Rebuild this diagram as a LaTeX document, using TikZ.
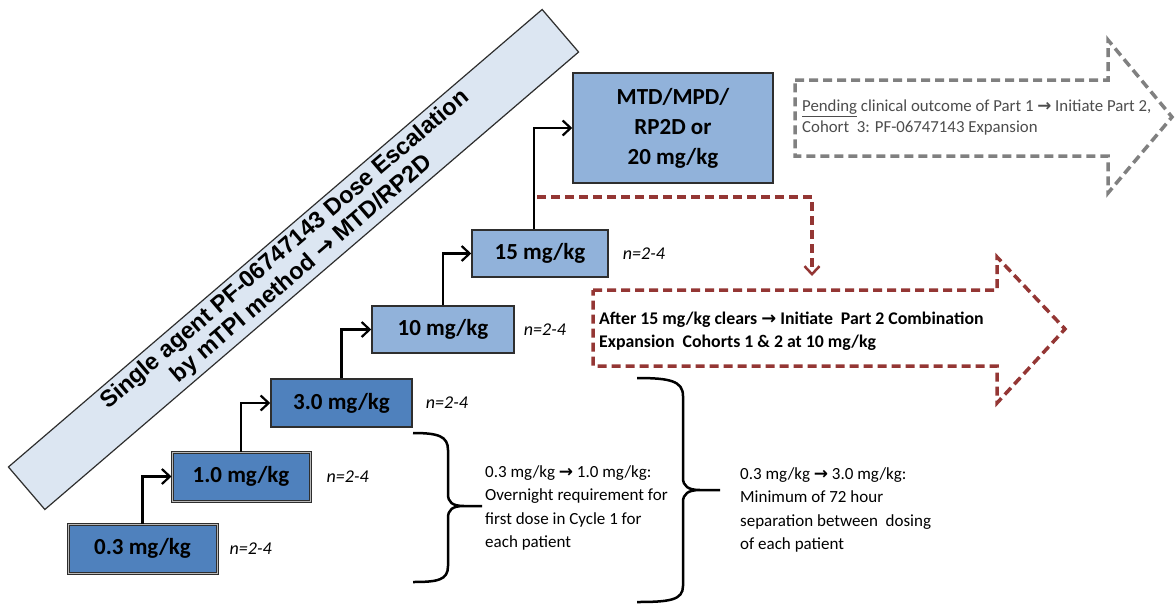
\documentclass[tikz,border=0pt]{standalone}
\usepackage{fontspec}
\setmainfont{Carlito}
\newfontfamily\bannerfont{Liberation Sans}
\newfontfamily\symfont{DejaVu Sans}
\usetikzlibrary{arrows.meta,positioning}

\definecolor{doseblue}{HTML}{4F81BD}
\definecolor{paleblue}{HTML}{91B2DA}
\definecolor{bannerfill}{HTML}{DCE6F2}
\definecolor{boxline}{HTML}{2E2E2E}
\definecolor{partred}{HTML}{943634}
\definecolor{partgray}{HTML}{808080}
\definecolor{notegray}{HTML}{4D4D4D}

\newcommand{\toarrow}{{\symfont\bfseries →}}

\tikzset{
    dosebox/.style = {draw=boxline, line width=1.5pt, fill=doseblue, inner sep=0pt,
        minimum height=48pt, font=\fontsize{23}{30}\selectfont\bfseries},
    dblbox/.style = {dosebox, line width=1pt, double=gray!55, double distance=1pt},
    nlabel/.style = {font=\fontsize{18}{22}\selectfont\itshape, inner sep=0pt},
    note/.style = {font=\fontsize{17}{23.3}\selectfont, align=left, inner sep=0pt},
    flow/.style = {line width=2.2pt, -{Straight Barb[length=8pt,width=15pt,line width=2.2pt]}},
    bracket/.style = {line width=2.5pt},
    redpart/.style = {draw=partred, line width=3.5pt, dash pattern=on 9pt off 5pt},
    graypart/.style = {draw=partgray, line width=3.5pt, dash pattern=on 9pt off 5pt}
}

\begin{document}
\begin{tikzpicture}[x=1pt, y=-1pt]
    \path[fill=white, use as bounding box] (0,0) rectangle (1175,603);

    % banner
    \node[draw=boxline, line width=1.2pt, fill=bannerfill, rotate=40.6,
          minimum width=703pt, minimum height=56pt, inner sep=0pt, align=center,
          font=\fontsize{23.5}{25.5}\selectfont\bannerfont\bfseries] (banner) at (293.5,259.5)
        {Single agent PF-06747143 Dose Escalation\\by mTPI method \toarrow{} MTD/RP2D};

    % dose levels
    \node[dblbox, minimum width=149pt, minimum height=49pt] (b03) at (142.5,548.5) {0.3 mg/kg};
    \node[dblbox, minimum width=138pt, minimum height=49pt] (b10) at (241,476.5) {1.0 mg/kg};
    \node[dosebox, minimum width=141pt] (b30) at (341.5,403) {3.0 mg/kg};
    \node[dosebox, fill=paleblue, minimum width=142pt, minimum height=47pt] (b100) at (443,329.5) {10 mg/kg};
    \node[dosebox, fill=paleblue, minimum width=136pt, minimum height=47pt] (b150) at (540,253.5) {15 mg/kg};
    \node[dosebox, fill=paleblue, minimum width=200pt, minimum height=110pt, align=center] (bmtd) at (673,128)
        {MTD/MPD/\\RP2D or\\20 mg/kg};

    \node[nlabel, right=12pt of b03] (n03) {n=2-4};
    \node[nlabel, right=16pt of b10] (n10) {n=2-4};
    \node[nlabel, right=13pt of b30] (n30) {n=2-4};
    \node[nlabel, right=9pt of b100] (n100) {n=2-4};
    \node[nlabel, right=14pt of b150] (n150) {n=2-4};

    \draw[flow] (b03.north) |- (b10.west);
    \draw[flow] (b10.north) |- (b30.west);
    \draw[flow] (b30.north) |- (b100.west);
    \draw[flow] (b100.north) |- (b150.west);
    \draw[flow] ([xshift=-6pt]b150.north) |- (bmtd.west);

    % part 2 arrows
    \draw[graypart] (795,80) -- (1108,80) -- (1108,40) -- (1172,117) -- (1108,193) -- (1108,156) -- (795,156) -- cycle;
    \node[note, font=\fontsize{16.8}{21}\selectfont, text=notegray, anchor=west] (pending) at (802,118)
        {\underline{Pending} clinical outcome of Part 1 \toarrow{} Initiate Part 2,\\Cohort\ \ 3: PF-06747143 Expansion};

    \draw[redpart] (593,290) -- (997,290) -- (997,257) -- (1065,329) -- (997,403) -- (997,366) -- (593,366) -- cycle;
    \node[note, font=\fontsize{17.8}{23}\selectfont\bfseries, anchor=west] (combo) at (599,331)
        {After 15 mg/kg clears \toarrow{} Initiate\ \ Part 2 Combination\\Expansion\ \ Cohorts 1 \& 2 at 10 mg/kg};

    \coordinate (fork) at (537,197);
    \coordinate (comboin) at (812,276);
    \draw[redpart, -{Straight Barb[length=8pt,width=15pt,line width=2.5pt]}] (fork) -| (comboin);

    % braces
    \draw[bracket] (413,433) .. controls (438,433) and (448,436) .. (448,450) -- (448,494)
        .. controls (448,502) and (452,506) .. (464,506) -- (482,506)
        (464,506) .. controls (452,506) and (448,510) .. (448,518) -- (448,566)
        .. controls (448,580) and (438,582) .. (413,582);
    \draw[bracket] (637,378) .. controls (670,378) and (683,381) .. (683,396) -- (683,478)
        .. controls (683,486) and (688,490) .. (700,490) -- (720,490)
        (700,490) .. controls (688,490) and (683,494) .. (683,502) -- (683,586)
        .. controls (683,600) and (670,602) .. (637,602);

    \node[note, anchor=west] (overnight) at (485,508)
        {0.3 mg/kg \toarrow{} 1.0 mg/kg:\\Overnight requirement for\\first dose in Cycle 1 for\\each patient};
    \node[note, anchor=west] (separation) at (740,510)
        {0.3 mg/kg \toarrow{} 3.0 mg/kg:\\Minimum of 72 hour\\separation between\ \ dosing\\of each patient};
\end{tikzpicture}
\end{document}
